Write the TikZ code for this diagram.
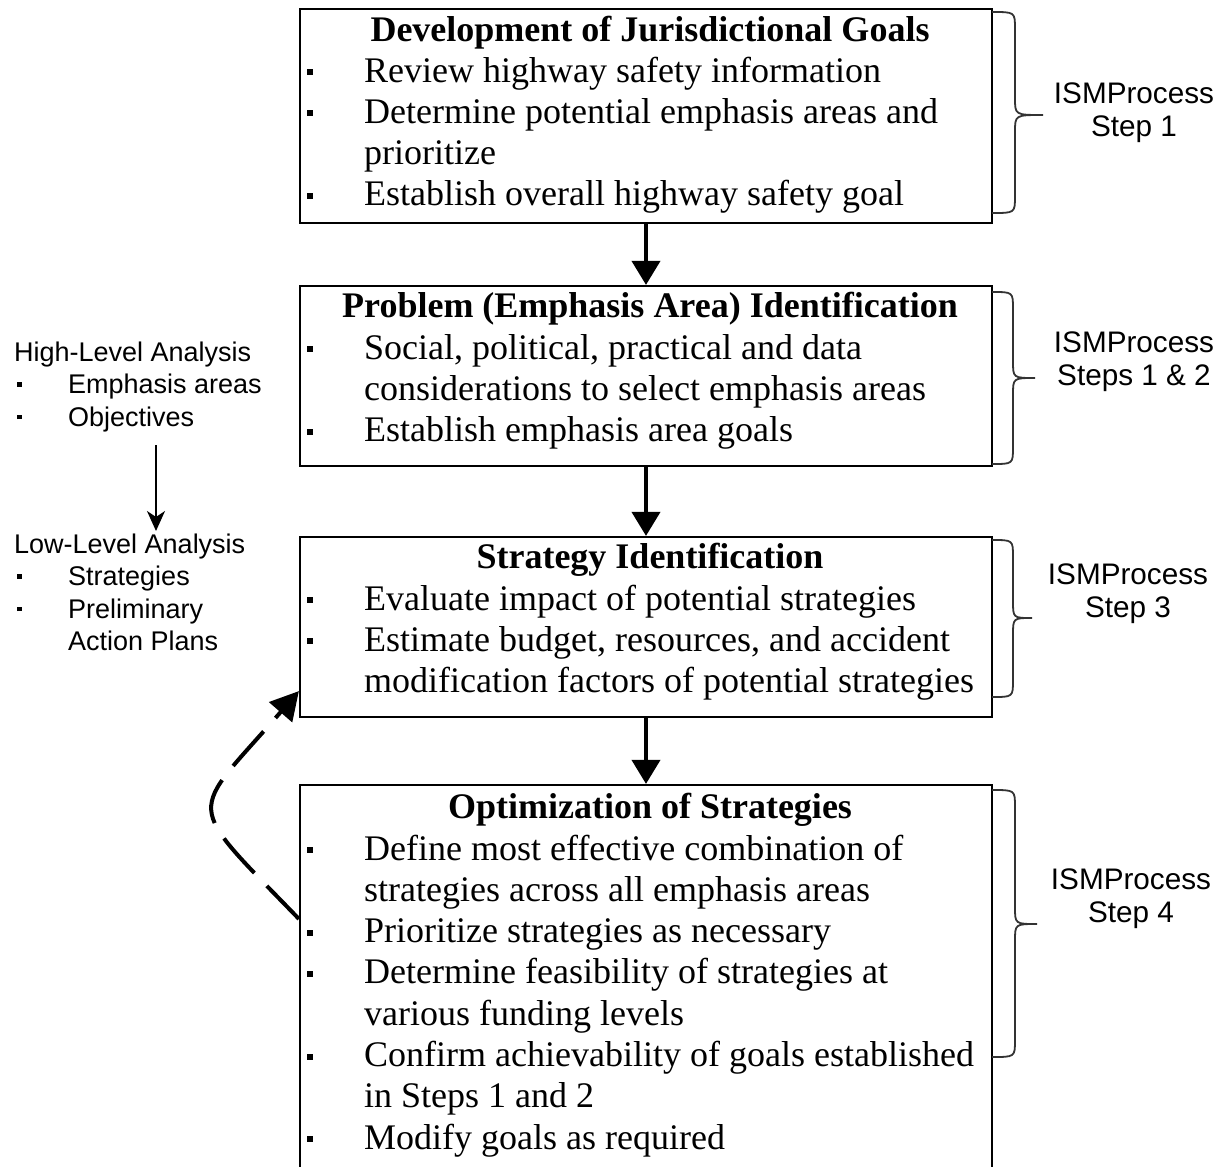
\documentclass[tikz,border=0pt]{standalone}
\usepackage{fontspec}
\setmainfont{Liberation Serif}
\newfontfamily\lsans{Liberation Sans}
\usetikzlibrary{arrows.meta}
\AtBeginDocument{\setlength{\lineskiplimit}{-100pt}}
\newcommand\bitem[1]{\noindent\llap{\rule[7pt]{6pt}{6pt}\hspace{51pt}}#1\par}
\newcommand\bcont[1]{\noindent#1\par}
\newcommand\litem[1]{\noindent\hspace*{3pt}\rule[7pt]{4.5pt}{4.5pt}\hspace*{46.5pt}#1\par}
\newcommand\lcont[1]{\noindent\hspace*{54pt}#1\par}
\newcommand\ismbrace[5]{%
  \draw[brc] (992,#1) .. controls (#4,#1) .. (#4,#1+17) -- (#4,#3-17)
    .. controls (#4,#3) .. (#5,#3) .. controls (#4,#3) .. (#4,#3+17)
    -- (#4,#2-17) .. controls (#4,#2) .. (992,#2);}
\begin{document}
\begin{tikzpicture}[x=1pt,y=-1pt,
  box/.style={draw, line width=2.2pt, minimum width=692pt, inner sep=0pt},
  ttl/.style={anchor=base, inner sep=0pt, font=\fontsize{36}{41.3}\selectfont\bfseries},
  items/.style={anchor=base west, inner sep=0pt, font=\fontsize{36}{41.3}\selectfont},
  flow/.style={line width=4pt, -{Triangle[length=24pt,width=28pt]}},
  dasharrow/.style={line width=4pt, dash pattern=on 46pt off 18pt, -{Triangle[length=28pt,width=30pt]}},
  thinarrow/.style={line width=2pt, -{Stealth[length=20pt,width=18pt,inset=6pt]}},
  brc/.style={draw=black!80, line width=1.8pt},
  ism/.style={anchor=base, inner sep=0pt, font=\lsans\fontsize{29.7}{33}\selectfont},
  side/.style={anchor=base west, inner sep=0pt, font=\lsans\fontsize{27}{32.5}\selectfont}]
\fill[white] (0,0) rectangle (1219,1167);
\useasboundingbox (0,0) rectangle (1219,1167);

% boxes
\node[box, minimum height=214pt] (b1) at (646,116) {};
\node[box, minimum height=180pt] (b2) at (646,376) {};
\node[box, minimum height=180pt] (b3) at (646,627) {};
\node[box, minimum height=400pt] (b4) at (646,985) {};

% titles
\node[ttl] (t1) at (650,41) {Development of Jurisdictional Goals};
\node[ttl] (t2) at (650,317) {Problem (Emphasis Area) Identification};
\node[ttl] (t3) at (650,568) {Strategy Identification};
\node[ttl] (t4) at (650,818) {Optimization of Strategies};

% items
\node[items] (i1) at (364,82) {\parbox[t]{700pt}{%
  \bitem{Review highway safety information}
  \bitem{Determine potential emphasis areas and}
  \bcont{prioritize}
  \bitem{Establish overall highway safety goal}}};
\node[items] (i2) at (364,359) {\parbox[t]{700pt}{%
  \bitem{Social, political, practical and data}
  \bcont{considerations to select emphasis areas}
  \bitem{Establish emphasis area goals}}};
\node[items] (i3) at (364,610) {\parbox[t]{700pt}{%
  \bitem{Evaluate impact of potential strategies}
  \bitem{Estimate budget, resources, and accident}
  \bcont{modification factors of potential strategies}}};
\node[items] (i4) at (364,860) {\parbox[t]{700pt}{%
  \bitem{Define most effective combination of}
  \bcont{strategies across all emphasis areas}
  \bitem{Prioritize strategies as necessary}
  \bitem{Determine feasibility of strategies at}
  \bcont{various funding levels}
  \bitem{Confirm achievability of goals established}
  \bcont{in Steps 1 and 2}
  \bitem{Modify goals as required}}};

% flow arrows
\draw[flow] (b1.south) -- (b2.north);
\draw[flow] (b2.south) -- (b3.north);
\draw[flow] (b3.south) -- (b4.north);

% feedback dashed arrow
\draw[dasharrow] ([yshift=-135pt]b4.north west) to[out=134,in=229,looseness=1.9] ([yshift=27pt]b3.south west);

% braces
\ismbrace{12}{213}{115}{1015}{1043}
\ismbrace{292}{464}{378}{1013}{1035}
\ismbrace{540}{697}{618}{1013}{1032}
\ismbrace{790}{1057}{924}{1015}{1037}

% ISM labels
\node[ism] (s1) at (1134,103) {\parbox[t]{200pt}{\centering ISMProcess\par Step 1}};
\node[ism] (s2) at (1134,352) {\parbox[t]{200pt}{\centering ISMProcess\par Steps 1 \& 2}};
\node[ism] (s3) at (1128,584) {\parbox[t]{200pt}{\centering ISMProcess\par Step 3}};
\node[ism] (s4) at (1131,889) {\parbox[t]{200pt}{\centering ISMProcess\par Step 4}};

% left side
\node[side] (hl) at (14,361) {\parbox[t]{280pt}{%
  \noindent High-Level Analysis\par
  \litem{Emphasis areas}
  \litem{Objectives}}};
\node[side] (ll) at (14,553) {\parbox[t]{280pt}{%
  \noindent Low-Level Analysis\par
  \litem{Strategies}
  \litem{Preliminary}
  \lcont{Action Plans}}};
\coordinate (la1) at (156,445);
\coordinate (la2) at (156,531);
\draw[thinarrow] (la1) -- (la2);
\end{tikzpicture}
\end{document}
